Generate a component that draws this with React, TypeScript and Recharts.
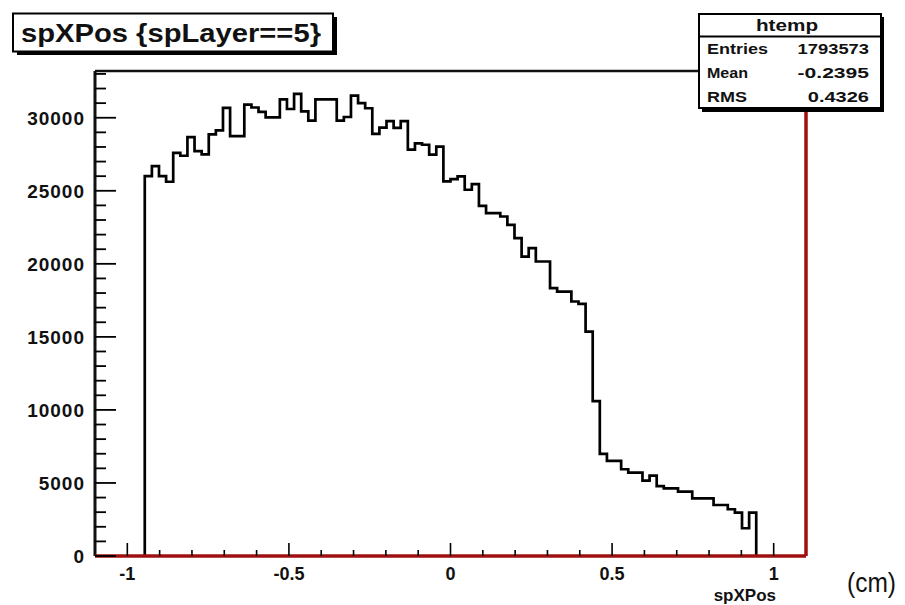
import React from 'react';
import {
  ComposedChart,
  Line,
  XAxis,
  YAxis,
  ReferenceLine,
} from 'recharts';

// htemp: 100 bins on [-1.1, 1.1], filled bins start at bin 7
const BIN_LOW = -1.1;
const BIN_WIDTH = 0.022;
const FIRST_BIN = 7;

const binCounts = [
  26000, 26690, 26000, 25620, 27600, 27400, 28680, 27720, 27490, 28860,
  29130, 30680, 28740, 28740, 30900, 30700, 30400, 30030, 30030, 31260,
  30600, 31640, 30430, 29800, 31260, 31260, 31260, 29800, 30050, 31520,
  31000, 30650, 28900, 29320, 29770, 29300, 29770, 27820, 28250, 28150,
  27470, 28030, 25640, 25800, 25980, 25070, 25460, 23970, 23470, 23470,
  23240, 22670, 21760, 20500, 21080, 20160, 20160, 18340, 18100, 18100,
  17420, 17260, 15360, 10600, 6990, 6510, 6510, 5940, 5710, 5710,
  5160, 5500, 4790, 4630, 4630, 4400, 4400, 3950, 3950, 3950,
  3490, 3490, 3200, 2970, 1900, 2970,
];

const xTicks = [
  -1, -0.9, -0.8, -0.7, -0.6, -0.5, -0.4, -0.3, -0.2, -0.1, 0,
  0.1, 0.2, 0.3, 0.4, 0.5, 0.6, 0.7, 0.8, 0.9, 1,
];
const yMajorTicks = [0, 5000, 10000, 15000, 20000, 25000, 30000];
const yTicks = Array.from({ length: 34 }, (_, i) => i * 1000);

const statsLabels = ['Entries', 'Mean', 'RMS'];
const statsValues = ['1793573', '-0.2395', '0.4326'];

const X_DOMAIN = [-1.1, 1.1];
const Y_MAX = 33200;

const W = 905;
const H = 605;
const PLOT = { left: 95, right: 806, top: 71, bottom: 556 };
const FRAME_RED = '#a01010';
const FONT = '"Liberation Sans", Arial, Helvetica, sans-serif';
// rendered widths of the stats labels (the pave font is drawn wide)
const LABEL_WIDTHS = [61, 41, 40];

// step outline: rise at the first edge, one step per bin, drop after the last
const edge = (i: number) => BIN_LOW + (FIRST_BIN + i) * BIN_WIDTH;
const histData = [
  { x: edge(0), n: 0 },
  ...binCounts.map((n, i) => ({ x: edge(i), n })),
  { x: edge(binCounts.length), n: binCounts[binCounts.length - 1] },
  { x: edge(binCounts.length), n: 0 },
];

const XTick = (props: any) => {
  const { x, payload } = props;
  const v = payload.value as number;
  const major = Math.abs(v * 2 - Math.round(v * 2)) < 1e-6;
  return (
    <g>
      <line
        x1={x}
        x2={x}
        y1={PLOT.bottom}
        y2={PLOT.bottom - (major ? 13 : 6)}
        stroke="#000"
        strokeWidth={1.6}
      />
      {major && (
        <text
          x={x}
          y={580}
          textAnchor="middle"
          fontFamily={FONT}
          fontWeight="bold"
          fontSize={18}
          fill="#111"
        >
          {String(v)}
        </text>
      )}
    </g>
  );
};

const YTick = (props: any) => {
  const { y, payload } = props;
  const v = payload.value as number;
  const major = yMajorTicks.includes(v);
  return (
    <g>
      <line
        x1={PLOT.left}
        x2={PLOT.left + (major ? 21 : 11)}
        y1={y}
        y2={y}
        stroke="#000"
        strokeWidth={1.8}
      />
      {major && (
        <text
          x={85}
          y={y + 7}
          textAnchor="end"
          fontFamily={FONT}
          fontWeight="bold"
          fontSize={19}
          letterSpacing={1}
          fill="#111"
        >
          {v}
        </text>
      )}
    </g>
  );
};

const Overlay = () => (
  <svg
    width={W}
    height={H}
    style={{ position: 'absolute', left: 0, top: 0, pointerEvents: 'none' }}
  >
    {/* title pave */}
    <rect x={17} y={17} width={320} height={38} fill="#000" />
    <rect x={13} y={13.5} width={320} height={38} fill="#fff" stroke="#000" strokeWidth={2} />
    <text
      x={21}
      y={42}
      fontFamily={FONT}
      fontWeight="bold"
      fontSize={26}
      textLength={300}
      lengthAdjust="spacingAndGlyphs"
      fill="#111"
    >
      spXPos {'{'}spLayer==5{'}'}
    </text>

    {/* stats box */}
    <rect x={702} y={17} width={182} height={95} fill="#000" />
    <rect x={699} y={14} width={182} height={94} fill="#fff" stroke="#000" strokeWidth={2} />
    <line x1={699} x2={881} y1={36.5} y2={36.5} stroke="#000" strokeWidth={2} />
    <text
      x={787}
      y={30.5}
      textAnchor="middle"
      fontFamily={FONT}
      fontWeight="bold"
      fontSize={16}
      textLength={62}
      lengthAdjust="spacingAndGlyphs"
      fill="#111"
    >
      htemp
    </text>
    {statsLabels.map((label, i) => (
      <g key={label}>
        <text
          x={707}
          y={54 + i * 24}
          fontFamily={FONT}
          fontWeight="bold"
          fontSize={15}
          textLength={LABEL_WIDTHS[i]}
          lengthAdjust="spacingAndGlyphs"
          fill="#111"
        >
          {label}
        </text>
        <text
          x={869}
          y={54 + i * 24}
          textAnchor="end"
          fontFamily={FONT}
          fontWeight="bold"
          fontSize={15}
          textLength={statsValues[i].length * 10.2}
          lengthAdjust="spacingAndGlyphs"
          fill="#111"
        >
          {statsValues[i]}
        </text>
      </g>
    ))}

    {/* axis title and unit */}
    <text
      x={776}
      y={601}
      textAnchor="end"
      fontFamily={FONT}
      fontWeight="bold"
      fontSize={17}
      fill="#111"
    >
      spXPos
    </text>
    <text
      x={847}
      y={592}
      fontFamily={FONT}
      fontWeight={400}
      fontSize={27}
      textLength={49}
      lengthAdjust="spacingAndGlyphs"
      fill="#111"
    >
      (cm)
    </text>
  </svg>
);

export default function App() {
  return (
    <div style={{ position: 'absolute', left: 0, top: 0, width: W, height: H, background: '#fff' }}>
      <ComposedChart
        width={W}
        height={H}
        data={histData}
        margin={{ top: PLOT.top, right: W - PLOT.right, left: 35, bottom: 19 }}
      >
        <XAxis
          dataKey="x"
          type="number"
          domain={X_DOMAIN}
          allowDataOverflow
          ticks={xTicks}
          interval={0}
          axisLine={false}
          tickLine={false}
          height={30}
          tick={(p: any) => <XTick {...p} />}
        />
        <YAxis
          type="number"
          domain={[0, Y_MAX]}
          allowDataOverflow
          ticks={yTicks}
          interval={0}
          axisLine={false}
          tickLine={false}
          width={60}
          tick={(p: any) => <YTick {...p} />}
        />
        {/* frame: black top/left, red shadow right/bottom */}
        <ReferenceLine y={Y_MAX} stroke="#111" strokeWidth={2.5} />
        <ReferenceLine x={X_DOMAIN[0]} stroke="#111" strokeWidth={3} />
        <Line
          type="stepAfter"
          dataKey="n"
          stroke="#000"
          strokeWidth={2.7}
          dot={false}
          activeDot={false}
          isAnimationActive={false}
        />
        <ReferenceLine x={X_DOMAIN[1]} stroke={FRAME_RED} strokeWidth={3.5} />
        <ReferenceLine y={0} stroke={FRAME_RED} strokeWidth={3.5} />
      </ComposedChart>
      <Overlay />
    </div>
  );
}
